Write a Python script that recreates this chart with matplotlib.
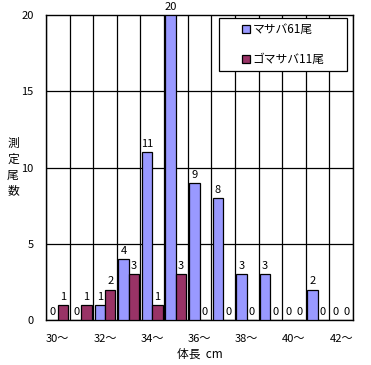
import matplotlib
matplotlib.use("Agg")
import matplotlib.pyplot as plt
from matplotlib.patches import Rectangle
import numpy as np

plt.rcParams['font.family'] = ['Noto Sans CJK JP', 'DejaVu Sans']

# 体長階級 (cm)
classes = [30, 31, 32, 33, 34, 35, 36, 37, 38, 39, 40, 41, 42]
masaba = [0, 0, 1, 4, 11, 20, 9, 8, 3, 3, 0, 2, 0]
gomasaba = [1, 1, 2, 3, 1, 3, 0, 0, 0, 0, 0, 0, 0]
tick_labels = [f"{c}～" for c in classes[::2]]

fig = plt.figure(figsize=(3.71, 3.65), dpi=100)
ax = fig.add_axes([46 / 371, 1 - 320 / 365, 307 / 371, 305 / 365])

x = np.arange(len(classes))
w = 0.44
b1 = ax.bar(x - w / 2, masaba, w, color='#9999FF', edgecolor='black', linewidth=0.9,
            label='マサバ61尾', zorder=3)
b2 = ax.bar(x + w / 2, gomasaba, w, color='#993366', edgecolor='black', linewidth=0.9,
            label='ゴマサバ11尾', zorder=3)

# 棒の上の数値
for rects, vals in ((b1, masaba), (b2, gomasaba)):
    for r, v in zip(rects, vals):
        ax.text(r.get_x() + r.get_width() / 2, v + 0.2, str(v), ha='center', va='bottom',
                fontsize=8, zorder=4)

ax.set_xlim(-0.5, len(classes) - 0.5)
ax.set_ylim(0, 20)
ax.set_yticks([0, 5, 10, 15, 20])
ax.set_xticks(x[::2])
ax.set_xticklabels(tick_labels)
ax.tick_params(length=0, labelsize=8, pad=9)
ax.tick_params(axis='x', pad=10)

# 格子線
for xb in np.arange(-0.5, len(classes), 1.0):
    ax.axvline(xb, color='black', linewidth=0.9, zorder=1)
for yv in [5, 10, 15]:
    ax.axhline(yv, color='black', linewidth=0.9, zorder=1)
for s in ax.spines.values():
    s.set_linewidth(1.0)

ax.set_xlabel('体長  cm', fontsize=8.5, labelpad=3)
fig.text(13 / 371, 1 - 167 / 365, '測\n定\n尾\n数', fontsize=8.5, ha='center', va='center',
         linespacing=1.3)

# 凡例の枠
x0, x1 = (219 - 46) / 307, (347 - 46) / 307
y0, y1 = (320 - 71) / 305, (320 - 18) / 305
ax.add_patch(Rectangle((x0, y0), x1 - x0, y1 - y0, transform=ax.transAxes,
                       facecolor='white', edgecolor='black', linewidth=0.9, zorder=5))
leg = ax.legend(loc='center', bbox_to_anchor=((x0 + x1) / 2, (y0 + y1) / 2), fontsize=8.5,
                frameon=False, handlelength=0.7, handleheight=0.7, handletextpad=0.2,
                labelspacing=1.4, borderpad=0, borderaxespad=0)
leg.set_zorder(6)

fig.savefig('out.png', dpi=100)
